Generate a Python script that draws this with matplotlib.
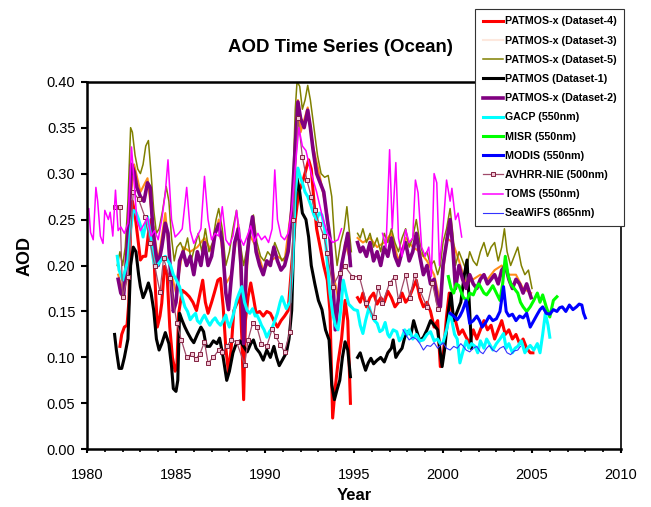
import numpy as np
import matplotlib.pyplot as plt

plt.rcParams['font.family'] = ['Liberation Sans', 'DejaVu Sans']

nan = np.nan

# PATMOS-x (Dataset-4)
ds4_year = [1981.85, 1981.95, 1982.1, 1982.25, 1982.35, 1982.45, 1982.55, 1982.7, 1982.85, 1983.0,
            1983.15, 1983.3, 1983.45, 1983.6, 1983.7, 1983.8, 1983.95, 1984.1, 1984.2, 1984.35,
            1984.5, 1984.65, 1984.8, 1984.95, 1985.05, 1985.15, 1985.35, 1985.55, 1985.75, 1985.95,
            1986.15, 1986.3, 1986.5, 1986.65, 1986.8, 1987.0, 1987.15, 1987.35, 1987.5, 1987.65,
            1987.8, 1987.95, 1988.1, 1988.25, 1988.45, 1988.6, 1988.7, 1988.8, 1988.9, 1989.05,
            1989.2, 1989.35, 1989.5, 1989.7, 1989.9, 1990.1, 1990.3, 1990.5, 1990.7, 1990.9,
            1991.1, 1991.3, 1991.5, 1991.7, 1991.9, 1992.1, 1992.3, 1992.45, 1992.6, 1992.75,
            1992.9, 1993.1, 1993.3, 1993.5, 1993.65, 1993.8, 1993.95, 1994.1, 1994.3, 1994.5,
            1994.65, 1994.8, 1995.0,
            1995.2, 1995.35, 1995.5, 1995.7, 1995.9, 1996.1, 1996.3, 1996.5, 1996.7, 1996.9,
            1997.1, 1997.3, 1997.5, 1997.7, 1997.9, 1998.1, 1998.3, 1998.5, 1998.7, 1998.9,
            1999.1, 1999.3, 1999.5, 1999.7, 1999.85, 2000.0, 2000.2, 2000.35, 2000.5, 2000.7,
            2000.9, 2001.1, 2001.3, 2001.5, 2001.7, 2001.9, 2002.1, 2002.3, 2002.5, 2002.7,
            2002.9, 2003.1, 2003.3, 2003.5, 2003.7, 2003.9, 2004.1, 2004.3, 2004.5, 2004.7,
            2004.9, 2005.05]
ds4_aod = [0.112, 0.125, 0.133, 0.135, 0.16, 0.24, 0.27, 0.255, 0.23, 0.206,
           0.21, 0.21, 0.235, 0.25, 0.242, 0.192, 0.133, 0.145, 0.159, 0.199,
           0.19, 0.133, 0.1, 0.085, 0.09, 0.148, 0.173, 0.17, 0.166, 0.16,
           0.151, 0.165, 0.184, 0.16, 0.148, 0.16, 0.17, 0.184, 0.186, 0.155,
           0.11, 0.083, 0.11, 0.151, 0.16, 0.166, 0.12, 0.054, 0.14, 0.166,
           0.181, 0.165, 0.148, 0.15, 0.145, 0.15, 0.148, 0.14, 0.133, 0.14,
           0.145, 0.151, 0.2, 0.25, 0.28, 0.29, 0.304, 0.315, 0.305, 0.27,
           0.24, 0.22, 0.2, 0.184, 0.15, 0.034, 0.068, 0.094, 0.12, 0.162,
           0.14, 0.05, nan,
           0.165, 0.16, 0.17, 0.155, 0.165, 0.17, 0.158, 0.165, 0.16, 0.172,
           0.165, 0.155, 0.16, 0.17, 0.16, 0.165, 0.175, 0.184, 0.165, 0.155,
           0.16, 0.15, 0.133, 0.14, 0.09, 0.1, 0.145, 0.17, 0.15, 0.14,
           0.125, 0.13, 0.122, 0.115, 0.13, 0.12, 0.13, 0.14, 0.13, 0.135,
           0.12, 0.13, 0.14, 0.125, 0.13, 0.12, 0.125, 0.115, 0.12, 0.11,
           0.105, 0.105]

# PATMOS-x (Dataset-2)
ds2_year = [1981.75, 1981.9, 1982.05, 1982.2, 1982.35, 1982.5, 1982.65, 1982.8, 1983.0, 1983.2,
            1983.4, 1983.55, 1983.7, 1983.85, 1984.0, 1984.2, 1984.4, 1984.55, 1984.7, 1984.85,
            1985.0, 1985.2, 1985.4, 1985.6, 1985.8, 1986.0, 1986.2, 1986.4, 1986.6, 1986.8,
            1987.0, 1987.2, 1987.4, 1987.6, 1987.8, 1987.95, 1988.1, 1988.3, 1988.5, 1988.65,
            1988.8, 1988.95, 1989.1, 1989.3, 1989.5, 1989.7, 1989.9, 1990.1, 1990.3, 1990.5,
            1990.7, 1990.9, 1991.1, 1991.3, 1991.5, 1991.7, 1991.85, 1992.0, 1992.2, 1992.4,
            1992.55, 1992.7, 1992.9, 1993.1, 1993.3, 1993.5, 1993.65, 1993.8, 1993.95, 1994.1,
            1994.3, 1994.5, 1994.65, 1994.8, 1995.0,
            1995.2, 1995.35, 1995.5, 1995.7, 1995.9, 1996.1, 1996.3, 1996.5, 1996.7, 1996.9,
            1997.1, 1997.3, 1997.5, 1997.7, 1997.9, 1998.1, 1998.3, 1998.5, 1998.7, 1998.9,
            1999.1, 1999.3, 1999.5, 1999.7, 1999.85, 2000.0, 2000.2, 2000.4, 2000.55, 2000.7,
            2000.9, 2001.1, 2001.3, 2001.5, 2001.7, 2001.9, 2002.1, 2002.3, 2002.5, 2002.7,
            2002.9, 2003.1, 2003.3, 2003.5, 2003.7, 2003.9, 2004.1, 2004.3, 2004.5, 2004.7,
            2004.95]
ds2_aod = [0.185, 0.17, 0.166, 0.2, 0.25, 0.31, 0.302, 0.285, 0.275, 0.27,
           0.29, 0.285, 0.24, 0.215, 0.2, 0.22, 0.246, 0.235, 0.19, 0.15,
           0.16, 0.205, 0.215, 0.2, 0.21, 0.19, 0.215, 0.2, 0.225, 0.2,
           0.21, 0.235, 0.245, 0.225, 0.17, 0.152, 0.185, 0.225, 0.24, 0.2,
           0.115, 0.2, 0.23, 0.253, 0.215, 0.2, 0.19, 0.205, 0.2, 0.22,
           0.205, 0.195, 0.2, 0.215, 0.26, 0.33, 0.378, 0.36, 0.35, 0.369,
           0.35, 0.326, 0.3, 0.29, 0.28, 0.25, 0.23, 0.19, 0.13, 0.16,
           0.2, 0.22, 0.235, 0.2, nan,
           0.225, 0.215, 0.22, 0.21, 0.225, 0.205, 0.215, 0.2, 0.22, 0.21,
           0.23, 0.21, 0.2, 0.215, 0.225, 0.205, 0.215, 0.235, 0.21, 0.19,
           0.2, 0.18, 0.185, 0.16, 0.155, 0.2, 0.225, 0.25, 0.22, 0.175,
           0.2, 0.185, 0.175, 0.19, 0.18, 0.175, 0.185, 0.19, 0.18, 0.185,
           0.19, 0.18, 0.195, 0.2, 0.185, 0.175, 0.185, 0.18, 0.17, 0.18,
           0.165]

# PATMOS-x (Dataset-3), mostly hidden below Dataset-2
ds3_year = [1981.75, 1982.05, 1982.35, 1982.65, 1983.0, 1983.4, 1983.7, 1984.0, 1984.4, 1984.7,
            1985.0, 1985.4, 1985.8, 1986.2, 1986.6, 1987.0, 1987.4, 1987.8, 1988.1, 1988.5,
            1988.8, 1989.1, 1989.5, 1989.9, 1990.3, 1990.7, 1991.1, 1991.5, 1991.85, 1992.0,
            1992.4, 1992.7, 1993.1, 1993.5, 1993.8, 1994.1, 1994.5, 1994.8, 1995.0,
            1995.2, 1995.5, 1995.9, 1996.3, 1996.7, 1997.1, 1997.5, 1997.9, 1998.3, 1998.7,
            1999.1, 1999.5, 1999.85, 2000.2, 2000.55, 2000.9, 2001.3, 2001.7, 2002.1, 2002.5,
            2002.9, 2003.3, 2003.7, 2004.1, 2004.5, 2004.95]
ds3_aod = [0.19, 0.17, 0.255, 0.31, 0.28, 0.295, 0.245, 0.205, 0.257, 0.195,
           0.17, 0.22, 0.215, 0.22, 0.23, 0.215, 0.25, 0.18, 0.19, 0.245,
           0.125, 0.235, 0.22, 0.195, 0.205, 0.21, 0.205, 0.265, 0.38, 0.345,
           0.372, 0.33, 0.295, 0.255, 0.195, 0.165, 0.225, 0.205, nan,
           0.23, 0.225, 0.23, 0.22, 0.225, 0.235, 0.205, 0.23, 0.22, 0.215,
           0.205, 0.19, 0.16, 0.23, 0.225, 0.205, 0.18, 0.185, 0.19, 0.185,
           0.195, 0.2, 0.19, 0.19, 0.175, 0.17]

# PATMOS-x (Dataset-5)
ds5_year = [1981.7, 1981.85, 1982.0, 1982.15, 1982.3, 1982.45, 1982.55, 1982.7, 1982.85, 1983.0,
            1983.15, 1983.3, 1983.45, 1983.6, 1983.75, 1983.9, 1984.05, 1984.25, 1984.45, 1984.6,
            1984.75, 1984.9, 1985.05, 1985.25, 1985.45, 1985.65, 1985.85, 1986.05, 1986.25, 1986.45,
            1986.65, 1986.85, 1987.05, 1987.25, 1987.4, 1987.6, 1987.8, 1988.0, 1988.2, 1988.4,
            1988.6, 1988.8, 1989.0, 1989.2, 1989.35, 1989.55, 1989.75, 1989.95, 1990.15, 1990.35,
            1990.55, 1990.75, 1990.95, 1991.15, 1991.35, 1991.55, 1991.7, 1991.8, 1991.95, 1992.1,
            1992.25, 1992.4, 1992.55, 1992.75, 1992.95, 1993.15, 1993.35, 1993.55, 1993.75, 1993.9,
            1994.05, 1994.25, 1994.45, 1994.6, 1994.75, 1994.85, 1995.0,
            1995.2, 1995.35, 1995.5, 1995.7, 1995.9, 1996.1, 1996.3, 1996.5, 1996.7, 1996.9,
            1997.1, 1997.3, 1997.5, 1997.7, 1997.9, 1998.1, 1998.3, 1998.5, 1998.7, 1998.9,
            1999.1, 1999.3, 1999.5, 1999.7, 1999.85, 2000.0, 2000.2, 2000.4, 2000.55, 2000.7,
            2000.9, 2001.1, 2001.3, 2001.5, 2001.7, 2001.9, 2002.1, 2002.3, 2002.5, 2002.7,
            2002.9, 2003.1, 2003.3, 2003.45, 2003.6, 2003.8, 2004.0, 2004.2, 2004.4, 2004.6,
            2004.8, 2005.0]
ds5_aod = [0.2, 0.215, 0.2, 0.22, 0.27, 0.35, 0.345, 0.32, 0.305, 0.3,
           0.31, 0.33, 0.336, 0.3, 0.26, 0.235, 0.24, 0.26, 0.286, 0.27,
           0.23, 0.205, 0.22, 0.225, 0.215, 0.23, 0.205, 0.22, 0.235, 0.215,
           0.24, 0.215, 0.225, 0.25, 0.262, 0.24, 0.2, 0.215, 0.24, 0.26,
           0.225, 0.2, 0.22, 0.24, 0.255, 0.225, 0.21, 0.205, 0.215, 0.21,
           0.225, 0.215, 0.205, 0.21, 0.225, 0.28, 0.37, 0.4, 0.395, 0.37,
           0.38, 0.396, 0.38, 0.35, 0.32, 0.3, 0.296, 0.298, 0.275, 0.23,
           0.2, 0.225, 0.24, 0.264, 0.235, 0.215, nan,
           0.235, 0.23, 0.24, 0.225, 0.235, 0.22, 0.23, 0.215, 0.235, 0.225,
           0.24, 0.225, 0.215, 0.23, 0.24, 0.22, 0.23, 0.25, 0.225, 0.21,
           0.215, 0.2, 0.205, 0.19, 0.2, 0.225, 0.24, 0.262, 0.235, 0.2,
           0.215, 0.205, 0.195, 0.215, 0.205, 0.2, 0.215, 0.225, 0.21, 0.22,
           0.225, 0.205, 0.22, 0.24, 0.215, 0.2, 0.21, 0.22, 0.2, 0.19,
           0.195, 0.175]

# PATMOS (Dataset-1)
ds1_year = [1981.55, 1981.65, 1981.8, 1981.95, 1982.1, 1982.3, 1982.45, 1982.6, 1982.75, 1982.9,
            1983.0, 1983.15, 1983.3, 1983.45, 1983.6, 1983.75, 1983.9, 1984.05, 1984.2, 1984.4,
            1984.6, 1984.75, 1984.85, 1985.0, 1985.1, 1985.2, 1985.35, 1985.5, 1985.65, 1985.85,
            1986.0, 1986.2, 1986.4, 1986.55, 1986.7, 1986.9, 1987.1, 1987.3, 1987.45, 1987.65,
            1987.85, 1988.0, 1988.2, 1988.4, 1988.6, 1988.8, 1989.0, 1989.2, 1989.35, 1989.5,
            1989.7, 1989.9, 1990.1, 1990.3, 1990.5, 1990.65, 1990.8, 1991.0, 1991.2, 1991.35,
            1991.5, 1991.65, 1991.8, 1991.95, 1992.1, 1992.3, 1992.45, 1992.6, 1992.8, 1993.0,
            1993.2, 1993.4, 1993.6, 1993.75, 1993.9, 1994.05, 1994.2, 1994.35, 1994.5, 1994.65,
            1994.8, 1995.0,
            1995.2, 1995.35, 1995.5, 1995.65, 1995.8, 1995.95, 1996.1, 1996.3, 1996.5, 1996.7,
            1996.9, 1997.1, 1997.2, 1997.35, 1997.5, 1997.7, 1997.85, 1998.0, 1998.2, 1998.35,
            1998.5, 1998.7, 1998.9, 1999.1, 1999.3, 1999.5, 1999.7, 1999.85, 1999.95, 2000.1,
            2000.3, 2000.45, 2000.6, 2000.8, 2001.0, 2001.2, 2001.35, 2001.5, 2001.6]
ds1_aod = [0.125, 0.108, 0.088, 0.088, 0.1, 0.12, 0.2, 0.22, 0.215, 0.19,
           0.177, 0.165, 0.172, 0.181, 0.17, 0.151, 0.12, 0.108, 0.115, 0.127,
           0.115, 0.09, 0.066, 0.063, 0.075, 0.148, 0.14, 0.133, 0.127, 0.12,
           0.116, 0.125, 0.133, 0.128, 0.112, 0.112, 0.118, 0.115, 0.121, 0.1,
           0.075, 0.085, 0.105, 0.116, 0.118, 0.112, 0.106, 0.115, 0.119, 0.11,
           0.105, 0.097, 0.108, 0.1, 0.112, 0.1, 0.091, 0.098, 0.105, 0.12,
           0.151, 0.25, 0.295, 0.28, 0.257, 0.25, 0.231, 0.2, 0.18, 0.162,
           0.152, 0.13, 0.119, 0.07, 0.054, 0.065, 0.075, 0.1, 0.117, 0.108,
           0.079, nan,
           0.1, 0.105, 0.095, 0.086, 0.094, 0.099, 0.093, 0.097, 0.1, 0.095,
           0.105, 0.11, 0.119, 0.1, 0.105, 0.11, 0.122, 0.128, 0.125, 0.14,
           0.13, 0.118, 0.122, 0.13, 0.14, 0.135, 0.13, 0.105, 0.09, 0.11,
           0.15, 0.17, 0.14, 0.15, 0.16, 0.19, 0.206, 0.15, 0.11]

# GACP (550nm)
gacp_year = [1981.7, 1981.8, 1981.9, 1982.0, 1982.15, 1982.3, 1982.45, 1982.6, 1982.75, 1982.9,
             1983.05, 1983.15, 1983.3, 1983.4, 1983.55, 1983.7, 1983.8, 1983.95, 1984.1, 1984.25,
             1984.4, 1984.55, 1984.7, 1984.85, 1985.0, 1985.2, 1985.35, 1985.5, 1985.65, 1985.8,
             1985.95, 1986.1, 1986.2, 1986.35, 1986.5, 1986.6, 1986.75, 1986.9, 1987.05, 1987.2,
             1987.35, 1987.5, 1987.65, 1987.8, 1987.9, 1988.0, 1988.2, 1988.4, 1988.55, 1988.7,
             1988.85, 1989.0, 1989.15, 1989.3, 1989.45, 1989.55, 1989.7, 1989.8, 1989.95, 1990.1,
             1990.25, 1990.4, 1990.55, 1990.7, 1990.85, 1990.95, 1991.1, 1991.2, 1991.3, 1991.4,
             1991.55, 1991.7, 1991.85, 1992.0, 1992.1, 1992.25, 1992.4, 1992.6, 1992.75, 1992.9,
             1993.05, 1993.2, 1993.35, 1993.5, 1993.65, 1993.8, 1993.95, 1994.1, 1994.25, 1994.4,
             1994.55, 1994.7, 1994.85, 1995.0, 1995.2, 1995.35, 1995.5, 1995.65, 1995.85, 1996.0,
             1996.15, 1996.3, 1996.45, 1996.6, 1996.75, 1996.9, 1997.0, 1997.2, 1997.4, 1997.55,
             1997.7, 1997.85, 1998.0, 1998.1, 1998.3, 1998.5, 1998.7, 1998.9, 1999.1, 1999.3,
             1999.5, 1999.7, 1999.85, 2000.0, 2000.2, 2000.4, 2000.5, 2000.65, 2000.8, 2000.95,
             2001.1, 2001.3, 2001.45, 2001.6, 2001.8, 2001.95, 2002.1, 2002.3, 2002.45, 2002.6,
             2002.8, 2003.0, 2003.2, 2003.4, 2003.55, 2003.7, 2003.9, 2004.05, 2004.2, 2004.4,
             2004.6, 2004.75, 2004.9, 2005.1, 2005.3, 2005.45, 2005.6, 2005.75, 2005.9, 2006.0]
gacp_aod = [0.21, 0.195, 0.19, 0.184, 0.195, 0.206, 0.24, 0.26, 0.258, 0.25,
            0.24, 0.231, 0.245, 0.253, 0.235, 0.21, 0.199, 0.2, 0.204, 0.208,
            0.21, 0.205, 0.2, 0.19, 0.185, 0.177, 0.165, 0.155, 0.15, 0.141,
            0.145, 0.148, 0.14, 0.137, 0.143, 0.146, 0.14, 0.135, 0.14, 0.143,
            0.138, 0.135, 0.14, 0.146, 0.138, 0.133, 0.145, 0.162, 0.17, 0.177,
            0.16, 0.151, 0.148, 0.153, 0.145, 0.146, 0.14, 0.135, 0.13, 0.122,
            0.128, 0.132, 0.14, 0.148, 0.16, 0.166, 0.158, 0.153, 0.157, 0.16,
            0.2, 0.28, 0.306, 0.295, 0.29, 0.28, 0.275, 0.264, 0.255, 0.25,
            0.257, 0.255, 0.24, 0.203, 0.17, 0.148, 0.135, 0.13, 0.15, 0.184,
            0.17, 0.158, 0.155, 0.152, 0.151, 0.135, 0.126, 0.14, 0.155, 0.145,
            0.14, 0.137, 0.128, 0.13, 0.138, 0.125, 0.122, 0.13, 0.128, 0.118,
            0.122, 0.13, 0.125, 0.13, 0.12, 0.125, 0.118, 0.119, 0.125, 0.128,
            0.118, 0.12, 0.115, 0.116, 0.13, 0.148, 0.14, 0.125, 0.12, 0.094,
            0.105, 0.118, 0.11, 0.115, 0.112, 0.105, 0.118, 0.11, 0.12, 0.115,
            0.108, 0.115, 0.12, 0.126, 0.11, 0.115, 0.105, 0.11, 0.112, 0.118,
            0.105, 0.11, 0.113, 0.108, 0.115, 0.105, 0.125, 0.148, 0.135, 0.122]

# MISR (550nm)
misr_year = [2000.3, 2000.45, 2000.6, 2000.75, 2000.9, 2001.0, 2001.15, 2001.35, 2001.5, 2001.7,
             2001.85, 2002.0, 2002.1, 2002.3, 2002.45, 2002.6, 2002.8, 2003.0, 2003.2, 2003.35,
             2003.5, 2003.65, 2003.8, 2004.0, 2004.2, 2004.35, 2004.5, 2004.7, 2004.9, 2005.1,
             2005.3, 2005.45, 2005.6, 2005.8, 2006.0, 2006.2, 2006.4]
misr_aod = [0.188, 0.175, 0.17, 0.18, 0.178, 0.172, 0.165, 0.162, 0.17, 0.168,
            0.175, 0.18, 0.177, 0.17, 0.168, 0.172, 0.178, 0.17, 0.162, 0.18,
            0.21, 0.19, 0.18, 0.175, 0.17, 0.16, 0.155, 0.15, 0.155, 0.162,
            0.17, 0.16, 0.168, 0.155, 0.144, 0.162, 0.166]

# MODIS (550nm)
modis_year = [2000.4, 2000.6, 2000.8, 2000.95, 2001.1, 2001.3, 2001.5, 2001.7, 2001.9, 2002.05,
              2002.2, 2002.4, 2002.6, 2002.8, 2003.0, 2003.2, 2003.4, 2003.55, 2003.7, 2003.9,
              2004.1, 2004.3, 2004.5, 2004.7, 2004.9, 2005.1, 2005.3, 2005.45, 2005.6, 2005.8,
              2006.0, 2006.2, 2006.4, 2006.55, 2006.7, 2006.9, 2007.1, 2007.3, 2007.5, 2007.65,
              2007.8, 2007.9, 2008.0]
modis_aod = [0.148, 0.145, 0.141, 0.145, 0.151, 0.162, 0.137, 0.14, 0.145, 0.14,
             0.133, 0.138, 0.145, 0.14, 0.142, 0.15, 0.177, 0.15, 0.145, 0.147,
             0.14, 0.145, 0.143, 0.148, 0.133, 0.14, 0.147, 0.152, 0.155, 0.148,
             0.147, 0.152, 0.15, 0.154, 0.155, 0.15, 0.157, 0.152, 0.155, 0.158,
             0.157, 0.148, 0.143]

# AVHRR-NIE (500nm)
nie_year = [1981.6, 1981.85, 1982.0, 1982.3, 1982.6, 1982.9, 1983.25, 1983.55, 1983.8, 1984.1,
            1984.3, 1984.65, 1985.05, 1985.3, 1985.6, 1985.9, 1986.1, 1986.35, 1986.6, 1986.8,
            1987.1, 1987.4, 1987.6, 1987.85, 1988.1, 1988.4, 1988.85, 1989.05, 1989.3, 1989.55,
            1989.8, 1990.1, 1990.4, 1990.6, 1990.85, 1991.1, 1991.4, 1991.6, 1991.85, 1992.1,
            1992.35, 1992.6, 1992.8, 1993.05, 1993.3, 1993.5, 1993.8, 1994.2, 1994.5, 1994.9,
            1995.3, 1995.7, 1996.1, 1996.35, 1996.6, 1997.0, 1997.3, 1997.5, 1997.9, 1998.15,
            1998.4, 1998.7, 1999.1, 1999.4, 1999.7]
nie_aod = [0.264, 0.264, 0.166, 0.188, 0.28, 0.272, 0.253, 0.224, 0.2, 0.171,
           0.208, 0.186, 0.137, 0.119, 0.1, 0.104, 0.098, 0.104, 0.117, 0.094,
           0.1, 0.108, 0.106, 0.112, 0.119, 0.117, 0.092, 0.119, 0.137, 0.133,
           0.115, 0.112, 0.131, 0.123, 0.114, 0.106, 0.128, 0.25, 0.361, 0.318,
           0.293, 0.275, 0.26, 0.245, 0.232, 0.214, 0.177, 0.192, 0.199, 0.188,
           0.188, 0.159, 0.144, 0.177, 0.159, 0.181, 0.188, 0.162, 0.19, 0.165,
           0.19, 0.173, 0.155, 0.181, 0.153]

# TOMS (550nm)
toms_year = [1980.0, 1980.1, 1980.2, 1980.35, 1980.5, 1980.6, 1980.75, 1980.9, 1981.0, 1981.2,
             1981.3, 1981.45, 1981.6, 1981.75, 1981.9, 1982.1, 1982.3, 1982.5, 1982.65, 1982.8,
             1983.0, 1983.2, 1983.4, 1983.6, 1983.8, 1984.0, 1984.2, 1984.4, 1984.55, 1984.75,
             1984.95, 1985.15, 1985.35, 1985.6, 1985.8, 1986.0, 1986.2, 1986.4, 1986.6, 1986.8,
             1987.0, 1987.2, 1987.4, 1987.6, 1987.8, 1988.0, 1988.2, 1988.4, 1988.6, 1988.8,
             1989.0, 1989.2, 1989.4, 1989.6, 1989.8, 1990.0, 1990.2, 1990.4, 1990.55, 1990.7,
             1990.9, 1991.1, 1991.3, 1991.5, 1991.7, 1991.9, 1992.1, 1992.3, 1992.6, 1992.9,
             1993.2, 1993.5, 1993.8, 1994.1, 1994.3, 1995.0,
             1996.6, 1996.8, 1997.0, 1997.15, 1997.35, 1997.5, 1997.7, 1997.9, 1998.1, 1998.3,
             1998.45, 1998.6, 1998.8, 1999.0, 1999.2, 1999.35, 1999.5, 1999.65, 1999.8, 2000.0,
             2000.2, 2000.4, 2000.5, 2000.7, 2000.85, 2001.05]
toms_aod = [0.258, 0.262, 0.236, 0.228, 0.285, 0.27, 0.232, 0.224, 0.26, 0.25,
            0.258, 0.232, 0.282, 0.238, 0.242, 0.235, 0.246, 0.329, 0.29, 0.25,
            0.238, 0.245, 0.252, 0.232, 0.238, 0.228, 0.25, 0.279, 0.315, 0.25,
            0.231, 0.235, 0.24, 0.285, 0.238, 0.224, 0.232, 0.24, 0.297, 0.25,
            0.228, 0.235, 0.232, 0.264, 0.228, 0.222, 0.232, 0.26, 0.23, 0.222,
            0.232, 0.243, 0.226, 0.235, 0.228, 0.232, 0.225, 0.24, 0.304, 0.25,
            0.232, 0.228, 0.235, 0.26, 0.307, 0.35, 0.33, 0.325, 0.3, 0.28,
            0.255, 0.235, 0.225, 0.228, 0.24, nan,
            0.235, 0.22, 0.326, 0.24, 0.312, 0.23, 0.21, 0.239, 0.225, 0.23,
            0.293, 0.279, 0.22, 0.21, 0.22, 0.188, 0.3, 0.29, 0.2, 0.24,
            0.293, 0.27, 0.284, 0.25, 0.257, 0.231]

# SeaWiFS (865nm)
seawifs_year = [1997.75, 1997.9, 1998.1, 1998.3, 1998.5, 1998.7, 1998.9, 1999.1, 1999.3, 1999.5,
                1999.7, 1999.85, 2000.0, 2000.2, 2000.4, 2000.6, 2000.8, 2001.0, 2001.15, 2001.3,
                2001.5, 2001.7, 2001.9, 2002.1, 2002.25, 2002.45, 2002.6, 2002.8, 2003.0, 2003.2,
                2003.4, 2003.6, 2003.8, 2004.0, 2004.2, 2004.35]
seawifs_aod = [0.13, 0.125, 0.119, 0.122, 0.12, 0.115, 0.108, 0.113, 0.112, 0.116,
               0.11, 0.113, 0.116, 0.11, 0.108, 0.112, 0.11, 0.115, 0.112, 0.108,
               0.106, 0.11, 0.112, 0.106, 0.104, 0.11, 0.113, 0.108, 0.106, 0.11,
               0.112, 0.105, 0.103, 0.107, 0.108, 0.112]

fig = plt.figure(figsize=(6.51, 5.07), dpi=100)
ax = fig.add_axes([87 / 651, 57.7 / 507, 534 / 651, 367.6 / 507])

ax.plot(ds4_year, ds4_aod, color='#ff0000', lw=2.2, label='PATMOS-x (Dataset-4)')
ax.plot(ds3_year, ds3_aod, color='#ff8c1a', lw=1.5, label='PATMOS-x (Dataset-3)')
ax.plot(ds5_year, ds5_aod, color='#808000', lw=1.1, label='PATMOS-x (Dataset-5)')
ax.plot(ds1_year, ds1_aod, color='#000000', lw=2.2, label='PATMOS (Dataset-1)')
ax.plot(ds2_year, ds2_aod, color='#800080', lw=2.6, label='PATMOS-x (Dataset-2)')
ax.plot(gacp_year, gacp_aod, color='#00ffff', lw=2.2, label='GACP (550nm)')
ax.plot(misr_year, misr_aod, color='#00ff00', lw=2.2, label='MISR (550nm)')
ax.plot(modis_year, modis_aod, color='#0000ff', lw=2.2, label='MODIS (550nm)')
ax.plot(nie_year, nie_aod, color='#a04a6a', lw=0.9, marker='s', ms=3,
        mfc='#f2c6d6', mec='#80203f', mew=0.7, label='AVHRR-NIE (500nm)')
ax.plot(toms_year, toms_aod, color='#ff00ff', lw=1.1, label='TOMS (550nm)')
ax.plot(seawifs_year, seawifs_aod, color='#3333ff', lw=0.8, label='SeaWiFS (865nm)')

ax.set_xlim(1980, 2010)
ax.set_ylim(0, 0.40)
ax.set_xticks(np.arange(1980, 2011, 5))
ax.set_xticks(np.arange(1980, 2011, 1), minor=True)
ax.set_yticks(np.arange(0, 0.401, 0.05))
ax.yaxis.set_major_formatter(plt.FormatStrFormatter('%.2f'))
ax.tick_params(axis='x', which='major', direction='out', length=3.2, width=1.5,
               labelsize=10.5, pad=10)
ax.tick_params(axis='x', which='minor', direction='out', length=2.2, width=1.2)
ax.tick_params(axis='y', direction='out', length=4.3, width=1.5, labelsize=10.5, pad=4)
for side in ['left', 'bottom', 'top']:
    ax.spines[side].set_linewidth(1.8)
ax.spines['right'].set_linewidth(1.2)

fig.text(340 / 651, 1 - 47 / 507, 'AOD Time Series (Ocean)', ha='center', va='center',
         fontsize=13.4, fontweight='bold')
fig.text(25 / 651, 1 - 256 / 507, 'AOD', ha='center', va='center', rotation=90,
         fontsize=13, fontweight='bold')
fig.text(354 / 651, 1 - 496 / 507, 'Year', ha='center', va='center',
         fontsize=12, fontweight='bold')

leg = ax.legend(loc='upper right', bbox_to_anchor=(624 / 651, 1 - 9 / 507),
                bbox_transform=fig.transFigure, borderaxespad=0, numpoints=1,
                prop={'size': 7.7, 'weight': 'bold'}, fancybox=False, framealpha=1,
                edgecolor='#333333', handlelength=1.9, handletextpad=0.15,
                labelspacing=0.86, borderpad=0.7)
leg.get_frame().set_linewidth(0.8)
leg.legend_handles[1].set_color('#fde8de')

fig.savefig('out.png', dpi=100)
